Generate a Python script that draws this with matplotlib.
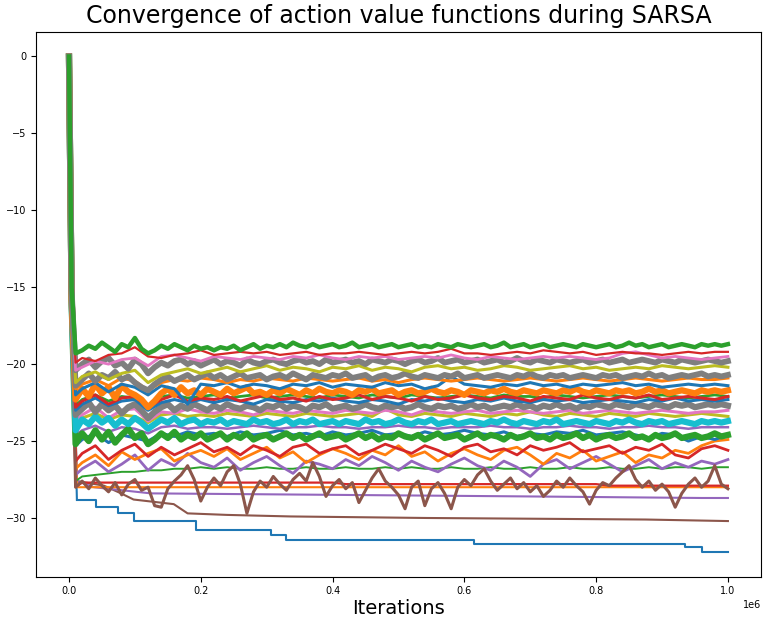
import matplotlib
matplotlib.use("Agg")
import matplotlib.pyplot as plt

# iterations at which the action values are sampled
iters = [0, 4000, 10000] + list(range(20000, 1000001, 20000))
iters_fine = [0, 4000, 10000] + list(range(20000, 1000001, 10000))

# thick, densely sampled bands
green_top = [0, -15.0, -19.3,
    -19.1, -18.8, -19.0, -18.6, -18.9, -19.2, -18.7, -18.9, -18.3, -19.0,
    -19.3, -19.1, -18.8, -19.0, -18.7, -18.9, -19.1, -18.8, -19.0, -18.9,
    -19.1, -18.9, -19.0, -18.8, -19.1, -18.9, -18.7, -19.0, -18.8, -18.9,
    -18.7, -18.9, -18.6, -18.8, -18.9, -18.7, -18.9, -18.8, -18.7, -18.9,
    -18.8, -18.6, -18.9, -18.8, -18.7, -18.9, -18.8, -18.7, -18.9, -18.8,
    -18.7, -18.9, -18.8, -18.9, -18.7, -18.8, -18.9, -18.7, -18.8, -18.9,
    -18.8, -18.7, -18.9, -18.8, -18.6, -18.9, -18.8, -18.7, -18.9, -18.8,
    -18.7, -18.9, -18.8, -18.7, -18.8, -18.9, -18.7, -18.8, -18.9, -18.8,
    -18.7, -18.9, -18.8, -18.6, -18.8, -18.7, -18.9, -18.8, -18.7, -18.9,
    -18.8, -18.7, -18.8, -18.9, -18.7, -18.8, -18.7, -18.8, -18.7]
gray_a = [0, -15.2, -20.4,
    -20.0, -19.7, -20.2, -19.8, -19.6, -20.1, -19.9, -20.3, -19.7, -20.0,
    -20.6, -20.2, -19.9, -20.1, -19.8, -19.7, -20.0, -19.8, -20.1, -19.9,
    -19.7, -20.0, -19.8, -19.9, -20.1, -19.7, -19.9, -20.0, -19.8, -19.7,
    -19.9, -20.0, -19.8, -19.7, -19.9, -19.8, -20.0, -19.7, -19.9, -19.8,
    -19.7, -19.9, -19.8, -20.0, -19.7, -19.8, -19.9, -19.7, -19.8, -20.0,
    -19.8, -19.7, -19.9, -19.8, -19.6, -19.9, -19.8, -19.7, -19.9, -19.8,
    -19.7, -19.9, -19.8, -19.7, -19.9, -19.8, -19.6, -19.8, -19.9, -19.7,
    -19.8, -19.9, -19.7, -19.8, -19.9, -19.8, -19.7, -19.9, -19.8, -19.7,
    -19.9, -19.8, -19.7, -19.9, -19.8, -19.7, -19.8, -19.9, -19.7, -19.8,
    -19.9, -19.7, -19.8, -19.9, -19.8, -19.7, -19.8, -19.9, -19.8]
gray_b = [0, -15.4, -21.4,
    -21.0, -20.6, -21.1, -20.7, -20.9, -20.5, -21.0, -20.8, -21.2, -21.5,
    -21.7, -21.3, -21.0, -20.8, -21.1, -20.9, -20.7, -21.0, -20.8, -20.6,
    -20.9, -20.7, -21.0, -20.8, -20.6, -20.9, -20.8, -20.7, -21.0, -20.8,
    -20.7, -20.9, -20.6, -20.8, -21.0, -20.7, -20.8, -20.9, -20.7, -20.8,
    -20.6, -20.9, -20.8, -20.7, -21.0, -20.8, -20.7, -20.9, -20.8, -20.6,
    -20.8, -20.9, -20.7, -20.8, -20.9, -20.7, -20.8, -20.6, -20.9, -20.8,
    -20.7, -20.9, -20.8, -20.7, -20.8, -20.9, -20.7, -20.8, -20.6, -20.8,
    -20.9, -20.7, -20.8, -20.7, -20.9, -20.8, -20.7, -20.8, -20.9, -20.7,
    -20.8, -20.7, -20.9, -20.8, -20.7, -20.8, -20.6, -20.8, -20.7, -20.9,
    -20.8, -20.7, -20.8, -20.7, -20.6, -20.8, -20.7, -20.8, -20.7]
orange_a = [0, -15.8, -22.3,
    -21.6, -22.1, -21.3, -21.9, -21.5, -22.2, -21.4, -21.8, -22.0, -22.3,
    -22.8, -22.4, -21.9, -21.6, -22.0, -21.5, -21.9, -21.7, -22.0, -21.6,
    -21.8, -22.0, -21.6, -21.9, -21.7, -21.5, -21.9, -21.8, -22.0, -21.7,
    -21.9, -21.6, -21.8, -22.0, -21.7, -21.9, -21.6, -21.8, -21.9, -21.7,
    -21.8, -22.0, -21.7, -21.8, -21.6, -21.9, -21.8, -21.7, -22.0, -21.8,
    -21.7, -21.9, -21.8, -21.6, -21.8, -21.9, -21.7, -21.8, -22.0, -21.7,
    -21.8, -21.9, -21.7, -21.8, -21.6, -21.8, -21.9, -21.7, -21.8, -21.9,
    -21.7, -21.8, -21.9, -21.7, -21.8, -21.6, -21.8, -21.9, -21.7, -21.8,
    -21.9, -21.7, -21.8, -21.7, -21.9, -21.8, -21.6, -21.8, -21.7, -21.9,
    -21.8, -21.7, -21.8, -21.9, -21.7, -21.8, -21.7, -21.8, -21.7]
gray_c = [0, -15.7, -23.3,
    -22.9, -22.5, -23.1, -22.6, -23.0, -22.7, -23.2, -22.8, -22.6, -23.0,
    -23.5, -23.1, -22.8, -22.6, -23.0, -22.7, -22.9, -22.6, -22.8, -23.0,
    -22.7, -22.9, -22.6, -22.8, -22.9, -22.7, -22.8, -23.0, -22.7, -22.8,
    -22.6, -22.9, -22.7, -22.8, -23.0, -22.7, -22.8, -22.6, -22.9, -22.8,
    -22.7, -22.9, -22.8, -22.6, -22.8, -22.9, -22.7, -22.8, -22.7, -22.9,
    -22.8, -22.6, -22.8, -22.9, -22.7, -22.8, -22.7, -22.9, -22.8, -22.6,
    -22.8, -22.7, -22.9, -22.8, -22.7, -22.8, -22.6, -22.8, -22.7, -22.9,
    -22.7, -22.8, -22.6, -22.8, -22.7, -22.9, -22.7, -22.8, -22.6, -22.7,
    -22.8, -22.6, -22.7, -22.8, -22.6, -22.7, -22.8, -22.6, -22.7, -22.8,
    -22.6, -22.7, -22.6, -22.8, -22.7, -22.6, -22.7, -22.6, -22.7]
cyan = [0, -15.9, -24.3,
    -23.6, -23.9, -23.4, -23.8, -23.5, -24.0, -23.6, -23.9, -23.5, -23.8,
    -24.2, -23.9, -23.6, -23.8, -23.5, -23.9, -23.7, -23.6, -23.9, -23.7,
    -23.8, -23.6, -23.9, -23.7, -23.8, -23.9, -23.6, -23.8, -23.7, -23.9,
    -23.8, -23.6, -23.9, -23.7, -23.8, -23.6, -23.9, -23.8, -23.7, -23.9,
    -23.7, -23.8, -23.9, -23.6, -23.8, -23.7, -23.9, -23.8, -23.6, -23.8,
    -23.9, -23.7, -23.8, -23.6, -23.9, -23.8, -23.7, -23.9, -23.8, -23.7,
    -23.8, -23.9, -23.7, -23.8, -23.6, -23.8, -23.9, -23.7, -23.8, -23.9,
    -23.7, -23.8, -23.6, -23.9, -23.8, -23.7, -23.8, -23.9, -23.7, -23.8,
    -23.9, -23.7, -23.8, -23.6, -23.8, -23.9, -23.7, -23.8, -23.7, -23.9,
    -23.8, -23.7, -23.8, -23.9, -23.7, -23.8, -23.7, -23.8, -23.7]
green_b = [0, -16.0, -25.2,
    -24.5, -25.0, -24.3, -24.9, -24.4, -25.1, -24.6, -24.2, -24.8, -24.5,
    -25.2, -24.9, -24.5, -24.8, -24.4, -24.9, -24.6, -24.8, -24.5, -24.9,
    -24.7, -24.5, -24.9, -24.6, -24.8, -24.5, -24.9, -24.7, -24.6, -24.9,
    -24.7, -24.5, -24.8, -24.6, -24.9, -24.7, -24.5, -24.8, -24.7, -24.6,
    -24.9, -24.7, -24.5, -24.8, -24.6, -24.9, -24.7, -24.8, -24.5, -24.7,
    -24.8, -24.6, -24.9, -24.7, -24.5, -24.8, -24.7, -24.6, -24.9, -24.7,
    -24.5, -24.8, -24.6, -24.7, -24.9, -24.6, -24.8, -24.7, -24.5, -24.8,
    -24.7, -24.9, -24.6, -24.8, -24.7, -24.5, -24.8, -24.6, -24.9, -24.7,
    -24.6, -24.8, -24.7, -24.5, -24.8, -24.7, -24.9, -24.6, -24.8, -24.7,
    -24.5, -24.8, -24.7, -24.6, -24.8, -24.7, -24.5, -24.7, -24.6]
brown_a = [0, -15.5, -28.0,
    -27.6, -28.1, -27.4, -27.9, -28.3, -27.7, -28.5, -27.8, -27.5, -28.2,
    -28.0, -29.2, -29.3, -28.1, -27.6, -27.2, -26.6, -27.5, -28.9, -28.0,
    -27.4, -27.9, -27.0, -26.6, -27.8, -29.7, -28.3, -27.6, -28.0, -27.3,
    -27.8, -28.2, -27.5, -27.1, -27.6, -26.4, -27.3, -28.6, -27.9, -27.5,
    -28.1, -27.7, -29.0, -28.2, -27.4, -26.8, -27.6, -28.0, -28.5, -29.4,
    -28.0, -27.6, -29.2, -28.1, -27.7, -28.4, -29.4, -28.0, -27.5, -27.9,
    -27.2, -26.8, -27.6, -28.2, -27.8, -27.4, -28.1, -27.7, -28.3, -27.9,
    -28.6, -28.2, -27.6, -28.0, -27.4, -27.9, -28.3, -29.1, -28.2, -27.7,
    -27.9, -27.4, -27.0, -26.6, -27.5, -28.0, -27.6, -28.2, -27.8, -28.3,
    -29.3, -28.4, -27.8, -27.4, -28.0, -27.6, -26.6, -27.8, -28.1]

# thinner lines
red_a = [0, -15.5, -19.9,
    -19.6, -19.8, -19.4, -19.3, -18.9, -19.5, -19.6, -19.4, -19.3, -19.1,
    -19.4, -19.3, -19.2, -19.3, -19.2, -19.4, -19.3, -19.2, -19.4, -19.3,
    -19.3, -19.2, -19.3, -19.4, -19.3, -19.2, -19.3, -19.2, -19.0, -19.3,
    -19.3, -19.4, -19.3, -19.2, -19.3, -19.1, -19.2, -19.3, -19.2, -19.4,
    -19.3, -19.2, -19.3, -19.3, -19.4, -19.3, -19.2, -19.3, -19.2, -19.2]
pink_a = [0, -14.8, -20.4,
    -20.2, -19.8, -20.0, -19.7, -19.6, -20.1, -19.5, -19.4, -19.6, -19.8,
    -19.5, -19.6, -19.7, -19.5, -19.6, -19.7, -19.5, -19.6, -19.4, -19.6,
    -19.7, -19.5, -19.6, -19.5, -19.7, -19.6, -19.5, -19.6, -19.4, -19.6,
    -19.7, -19.5, -19.6, -19.7, -19.6, -19.5, -19.6, -19.5, -19.6, -19.7,
    -19.6, -19.3, -19.2, -19.4, -19.6, -19.5, -19.6, -19.7, -19.6, -19.5]
olive_a = [0, -15.0, -21.2,
    -20.8, -20.5, -21.0, -20.6, -20.4, -21.2, -20.7, -20.5, -20.3, -20.6,
    -20.4, -20.2, -20.5, -20.3, -20.1, -20.4, -20.2, -20.3, -20.5, -20.2,
    -20.3, -20.1, -20.4, -20.2, -20.3, -20.5, -20.2, -20.1, -20.3, -20.2,
    -20.4, -20.3, -20.1, -20.2, -20.4, -20.3, -20.2, -20.1, -20.3, -20.2,
    -20.4, -20.3, -20.2, -20.3, -20.1, -20.2, -20.3, -20.2, -20.1, -20.2]
orange_b = [0, -15.6, -21.6,
    -21.3, -21.0, -21.4, -20.9, -21.1, -21.7, -21.2, -21.0, -21.1, -20.9,
    -21.0, -21.2, -21.0, -21.1, -20.9, -21.0, -21.1, -20.9, -21.0, -21.1,
    -21.0, -20.9, -21.1, -21.0, -21.2, -21.0, -20.9, -21.0, -21.1, -21.0,
    -20.9, -21.0, -21.1, -21.0, -20.9, -21.0, -21.1, -21.0, -20.9, -21.0,
    -21.1, -21.0, -20.9, -21.0, -21.1, -21.0, -20.9, -21.0, -21.0, -20.9]
blue_a = [0, -15.3, -22.0,
    -21.6, -21.2, -21.8, -21.3, -21.5, -22.0, -21.4, -21.6, -22.6, -21.3,
    -21.4, -21.2, -21.5, -21.3, -21.4, -21.6, -21.3, -21.4, -21.2, -21.5,
    -21.3, -21.4, -21.5, -21.2, -21.4, -21.3, -21.6, -21.4, -20.8, -21.3,
    -21.4, -21.5, -21.3, -21.4, -21.2, -21.4, -21.3, -21.5, -21.3, -21.4,
    -21.3, -21.2, -21.4, -21.3, -21.5, -21.4, -21.3, -21.4, -21.3, -21.4]
red_b = [0, -15.1, -22.8,
    -22.4, -22.0, -22.6, -22.2, -22.1, -22.8, -22.3, -22.0, -22.4, -22.2,
    -22.3, -22.1, -22.4, -22.2, -22.0, -22.3, -22.2, -22.4, -22.1, -22.3,
    -22.2, -22.0, -22.3, -22.1, -22.2, -22.4, -22.1, -22.3, -22.2, -22.0,
    -22.2, -22.3, -22.1, -22.2, -22.4, -22.1, -22.2, -22.3, -22.0, -22.2,
    -22.3, -22.1, -22.2, -22.0, -22.3, -22.2, -22.1, -22.2, -22.3, -22.1]
blue_b = [0, -15.5, -23.0,
    -22.6, -22.2, -22.7, -22.4, -22.3, -23.0, -22.5, -22.3, -22.5, -22.3,
    -22.5, -22.3, -22.4, -22.6, -22.3, -22.4, -22.5, -22.3, -22.4, -22.2,
    -22.4, -22.5, -22.3, -22.4, -22.6, -22.3, -22.4, -22.2, -22.4, -22.5,
    -22.3, -22.4, -22.2, -22.4, -22.5, -22.3, -22.4, -22.3, -22.5, -22.4,
    -22.3, -22.4, -22.5, -22.3, -22.4, -22.2, -22.4, -22.3, -22.4, -22.3]
green_c = [0, -15.2, -22.7,
    -22.3, -22.0, -22.4, -22.1, -22.2, -22.7, -22.1, -22.0, -22.2, -22.1,
    -22.0, -22.2, -22.1, -22.0, -22.2, -22.1, -22.0, -22.1, -22.2, -22.0,
    -22.1, -22.2, -22.0, -22.1, -22.2, -22.0, -22.1, -22.2, -22.1, -22.0,
    -22.1, -22.2, -22.0, -22.1, -22.1, -22.2, -22.0, -22.1, -22.2, -22.1,
    -22.0, -22.1, -22.2, -22.1, -22.0, -22.1, -22.2, -22.1, -22.0, -22.1]
pink_b = [0, -15.0, -23.7,
    -23.3, -22.8, -23.5, -23.0, -22.9, -23.7, -23.1, -23.2, -22.9, -23.1,
    -23.2, -23.0, -23.1, -23.3, -23.0, -23.1, -23.2, -23.0, -23.1, -23.2,
    -23.0, -23.1, -23.2, -23.0, -23.1, -23.3, -23.0, -23.1, -23.2, -23.1,
    -23.0, -23.2, -23.1, -23.0, -23.1, -23.2, -23.1, -23.0, -23.2, -23.1,
    -23.0, -23.1, -23.2, -23.1, -23.0, -23.1, -23.2, -23.1, -23.1, -23.0]
olive_b = [0, -15.3, -23.9,
    -23.5, -23.2, -23.6, -23.3, -23.4, -23.8, -23.3, -23.2, -23.4, -23.3,
    -23.4, -23.2, -23.3, -23.4, -23.2, -23.3, -23.4, -23.2, -23.3, -23.4,
    -23.3, -23.2, -23.4, -22.9, -23.3, -23.4, -23.2, -23.3, -23.4, -23.2,
    -23.3, -23.4, -23.2, -23.3, -23.1, -23.3, -23.4, -23.2, -23.3, -23.4,
    -23.2, -23.3, -23.4, -23.2, -23.3, -23.4, -23.3, -23.2, -23.3, -23.4]
purple_a = [0, -15.4, -24.6,
    -24.3, -24.0, -24.4, -24.1, -24.2, -24.5, -24.1, -24.0, -24.2, -24.1,
    -24.1, -24.2, -24.1, -24.0, -24.1, -24.2, -24.1, -24.1, -24.0, -24.1,
    -24.1, -24.2, -24.1, -24.1, -24.0, -24.1, -24.1, -24.2, -24.1, -24.1,
    -24.1, -24.0, -24.1, -24.1, -24.2, -24.1, -24.1, -24.0, -24.1, -24.1,
    -24.2, -24.1, -24.1, -24.0, -24.1, -24.1, -24.2, -24.1, -24.1, -24.1]
blue_c = [0, -15.6, -25.3,
    -24.9, -24.5, -25.1, -24.6, -24.8, -25.0, -24.5, -24.7, -24.4, -24.6,
    -24.5, -24.7, -24.4, -24.6, -24.5, -24.3, -24.6, -24.5, -24.7, -24.4,
    -24.6, -24.5, -24.3, -24.6, -24.5, -24.7, -24.4, -24.6, -24.5, -24.3,
    -24.5, -24.6, -24.4, -24.7, -24.5, -24.6, -24.4, -24.5, -24.3, -24.6,
    -24.5, -24.4, -24.6, -24.8, -24.5, -24.6, -25.0, -24.7, -24.9, -24.6]
red_c = [0, -15.8, -26.3,
    -25.8, -25.3, -26.2, -25.6, -25.2, -26.0, -25.4, -25.9, -25.5, -25.1,
    -25.7, -25.4, -25.9, -25.3, -25.6, -26.0, -25.4, -25.2, -25.8, -25.5,
    -25.3, -25.9, -25.6, -25.2, -25.5, -25.8, -25.3, -25.6, -26.0, -25.4,
    -25.2, -25.7, -25.5, -25.9, -25.3, -25.6, -25.4, -25.1, -25.7, -25.5,
    -25.3, -25.8, -25.4, -25.6, -25.2, -25.9, -26.1, -25.5, -25.3, -25.6]
orange_c = [0, -15.5, -26.8,
    -26.4, -25.9, -26.6, -25.7, -26.2, -25.8, -25.5, -26.3, -25.9, -25.6,
    -26.0, -25.5, -26.2, -25.8, -25.4, -26.1, -25.7, -26.4, -25.9, -25.5,
    -25.8, -26.2, -25.6, -25.9, -25.3, -26.0, -25.7, -26.3, -25.8, -25.5,
    -25.9, -26.2, -25.6, -25.4, -25.9, -26.5, -25.8, -26.1, -25.6, -26.3,
    -26.0, -25.7, -26.4, -25.9, -26.1, -25.6, -25.8, -25.3, -25.0, -24.9]
purple_b = [0, -15.2, -27.2,
    -26.8, -26.3, -27.0, -26.5, -25.9, -26.9, -26.2, -26.6, -25.8, -26.4,
    -26.7, -26.1, -26.9, -26.4, -26.0, -26.6, -27.1, -26.3, -26.5, -26.8,
    -26.2, -26.6, -26.0, -26.4, -26.9, -26.3, -26.7, -27.0, -26.5, -26.1,
    -26.6, -26.9, -26.3, -26.7, -27.3, -26.5, -26.2, -26.8, -26.4, -26.0,
    -26.5, -27.0, -26.6, -26.2, -26.8, -26.4, -26.7, -26.3, -26.5, -26.2]
green_d = [0, -15.0, -27.6,
    -27.3, -27.2, -27.1, -27.0, -27.0, -26.9, -26.9, -26.8, -26.8, -26.7,
    -26.8, -26.7, -26.8, -26.8, -26.7, -26.8, -26.8, -26.7, -26.8, -26.8,
    -26.7, -26.8, -26.8, -26.7, -26.8, -26.7, -26.8, -26.8, -26.7, -26.8,
    -26.8, -26.7, -26.8, -26.8, -26.7, -26.8, -26.8, -26.7, -26.8, -26.8,
    -26.7, -26.8, -26.8, -26.7, -26.8, -26.7, -26.7, -26.8, -26.7, -26.7]
red_d = [0, -15.5, -28.0,
    -27.7, -27.7, -27.7, -27.7, -27.7, -27.7, -27.7, -27.7, -27.7, -27.7,
    -27.7, -27.7, -27.7, -27.7, -27.7, -27.7, -27.7, -27.7, -27.7, -27.7,
    -27.8, -27.8, -27.8, -27.8, -27.8, -27.8, -27.8, -27.8, -27.8, -27.8,
    -27.8, -27.8, -27.8, -27.8, -27.8, -27.8, -27.8, -27.8, -27.8, -27.8,
    -27.9, -27.9, -27.9, -27.9, -27.9, -27.9, -27.9, -27.9, -27.9, -27.9]

# slowly drifting / stepping values, with their own breakpoints
orange_d_x = [0, 4000, 12000, 1000000]
orange_d_y = [0, -15.0, -28.0, -28.0]
purple_c_x = [0, 4000, 12000, 38000, 124000, 700000, 960000, 1000000]
purple_c_y = [0, -15.2, -27.6, -28.0, -28.4, -28.6, -28.7, -28.7]
brown_b_x = [0, 4000, 12000, 53000, 79000, 98000, 159000, 180000, 240000,
             336000, 543000, 875000, 1000000]
brown_b_y = [0, -15.0, -27.6, -27.9, -28.4, -28.8, -29.1, -29.7, -29.8,
             -29.9, -30.0, -30.1, -30.2]
blue_d_x = [0, 4000, 12000, 41000, 75000, 99000, 192000, 307000, 329000,
            614000, 935000, 961000, 1000000]
blue_d_y = [0, -15.0, -28.8, -29.3, -29.7, -30.2, -30.8, -31.1, -31.4,
            -31.7, -31.9, -32.2, -32.2]

fig = plt.figure(figsize=(7.67, 6.22), dpi=100)
ax = fig.add_axes([0.047, 0.073, 0.945, 0.876])

# the stepping line: slanted drop first, then flat steps
ax.plot(blue_d_x[:3], blue_d_y[:3], color='C0', lw=1.5)
ax.plot(blue_d_x[2:], blue_d_y[2:], color='C0', lw=1.5, drawstyle='steps-post')
ax.plot(brown_b_x, brown_b_y, color='C5', lw=1.5)
ax.plot(purple_c_x, purple_c_y, color='C4', lw=1.5)
ax.plot(orange_d_x, orange_d_y, color='C1', lw=1.5)

lines = [
    (iters, red_d, 'C3', 1.6), (iters, green_d, 'C2', 1.4),
    (iters, purple_b, 'C4', 2.0), (iters, orange_c, 'C1', 2.0),
    (iters, red_c, 'C3', 2.0), (iters_fine, brown_a, 'C5', 2.2),
    (iters, blue_c, 'C0', 2.2), (iters, purple_a, 'C4', 1.8),
    (iters_fine, green_b, 'C2', 4.5), (iters, olive_b, 'C8', 2.2),
    (iters, pink_b, 'C6', 2.2), (iters_fine, cyan, 'C9', 4.5),
    (iters_fine, gray_c, 'C7', 4.5), (iters, green_c, 'C2', 2.0),
    (iters, blue_b, 'C0', 2.2), (iters, red_b, 'C3', 2.2),
    (iters_fine, orange_a, 'C1', 4.5), (iters, blue_a, 'C0', 2.2),
    (iters, orange_b, 'C1', 2.2), (iters_fine, gray_b, 'C7', 4.2),
    (iters, olive_a, 'C8', 2.2), (iters_fine, gray_a, 'C7', 4.2),
    (iters, pink_a, 'C6', 2.0), (iters, red_a, 'C3', 1.6),
    (iters_fine, green_top, 'C2', 3.2),
]
for xs, vals, col, lw in lines:
    ax.plot(xs, vals, color=col, lw=lw)

ax.set_title('Convergence of action value functions during SARSA', fontsize=17, pad=6)
ax.set_xlabel('Iterations', fontsize=14, labelpad=2)
ax.tick_params(labelsize=7)
ax.xaxis.get_offset_text().set_fontsize(7)

fig.savefig('out.png', dpi=100)
